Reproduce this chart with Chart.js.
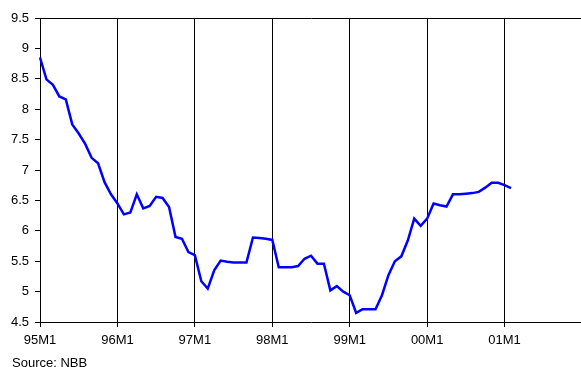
<!DOCTYPE html>
<html>
<head>
<meta charset="utf-8">
<script src="https://cdn.jsdelivr.net/npm/chart.js@4"></script>
<style>
  html, body { margin: 0; padding: 0; background: #fff; overflow: hidden; width: 581px; height: 367px; }
  #wrap { position: relative; width: 581px; height: 367px; overflow: hidden; }
  canvas { position: absolute; left: 0; top: 0; }
  #source { position: absolute; left: 12px; top: 355px; font: 13px/15px "Liberation Sans", Arial, sans-serif; color: #000; white-space: nowrap; }
</style>
</head>
<body>
<div id="wrap">
  <canvas id="chart" width="582" height="367"></canvas>
  <div id="source">Source: NBB</div>
</div>
<script>
// Monthly category axis: 95M1 ... 01M12, plus 02M1 as the closing edge
const years = ['95', '96', '97', '98', '99', '00', '01'];
const closingLabel = '02M1';

// Monthly series, 95M1 to 01M2
const rates = [
  8.85, 8.49, 8.40, 8.21, 8.16, 7.75, 7.60, 7.43, 7.20, 7.11, 6.80, 6.60,
  6.45, 6.27, 6.30, 6.60, 6.37, 6.41, 6.56, 6.54, 6.39, 5.90, 5.87, 5.65,
  5.60, 5.17, 5.05, 5.35, 5.51, 5.49, 5.48, 5.48, 5.48, 5.89, 5.88, 5.87,
  5.85, 5.40, 5.40, 5.40, 5.42, 5.54, 5.59, 5.46, 5.46, 5.02, 5.09, 5.00,
  4.94, 4.65, 4.71, 4.71, 4.71, 4.94, 5.27, 5.50, 5.58, 5.84, 6.20, 6.08,
  6.20, 6.45, 6.42, 6.40, 6.60, 6.60, 6.61, 6.62, 6.64, 6.71, 6.79, 6.79,
  6.75, 6.70
];

// Y axis range and step
const yMin = 4.5;
const yMax = 9.5;
const yStep = 0.5;

const categories = [];
years.forEach(y => { for (let m = 1; m <= 12; m++) categories.push(y + 'M' + m); });
categories.push(closingLabel);
const lastShown = categories.length - 1;

const font = { family: '"Liberation Sans", Arial, sans-serif', size: 13 };

new Chart(document.getElementById('chart'), {
  type: 'line',
  data: {
    labels: categories,
    datasets: [{
      data: rates,
      borderColor: '#0000ff',
      borderWidth: 2.5,
      pointRadius: 0,
      tension: 0,
      fill: false
    }]
  },
  options: {
    responsive: false,
    animation: false,
    devicePixelRatio: 1,
    layout: { padding: { left: 0, right: 0, top: 18, bottom: 0 } },
    plugins: { legend: { display: false }, tooltip: { enabled: false } },
    scales: {
      x: {
        type: 'category',
        offset: false,
        afterFit: s => { s.height = 45; s.paddingLeft = 0; s.paddingRight = 0; },
        border: { display: true, color: '#000', width: 1 },
        grid: {
          color: c => (c.index % 12 === 0 && c.index > 0 && c.index < lastShown) ? '#000' : 'rgba(0,0,0,0)',
          tickColor: c => (c.index % 12 === 0 && c.index < lastShown) ? '#000' : 'rgba(0,0,0,0)',
          tickLength: 5,
          lineWidth: 1
        },
        ticks: {
          autoSkip: false,
          maxRotation: 0,
          minRotation: 0,
          padding: 6,
          color: '#000',
          font: font,
          callback: function (v, i) { return (i % 12 === 0 && i < lastShown) ? this.getLabelForValue(v) : ''; }
        }
      },
      y: {
        min: yMin,
        max: yMax,
        afterFit: s => { s.width = 40; },
        border: { display: true, color: '#000', width: 1 },
        grid: {
          color: c => (c.tick && c.tick.value === yMax) ? '#000' : 'rgba(0,0,0,0)',
          tickColor: '#000',
          tickLength: 5,
          lineWidth: 1
        },
        ticks: {
          stepSize: yStep,
          padding: 6,
          color: '#000',
          font: font,
          callback: v => String(Math.round(v * 10) / 10)
        }
      }
    }
  }
});
</script>
</body>
</html>
